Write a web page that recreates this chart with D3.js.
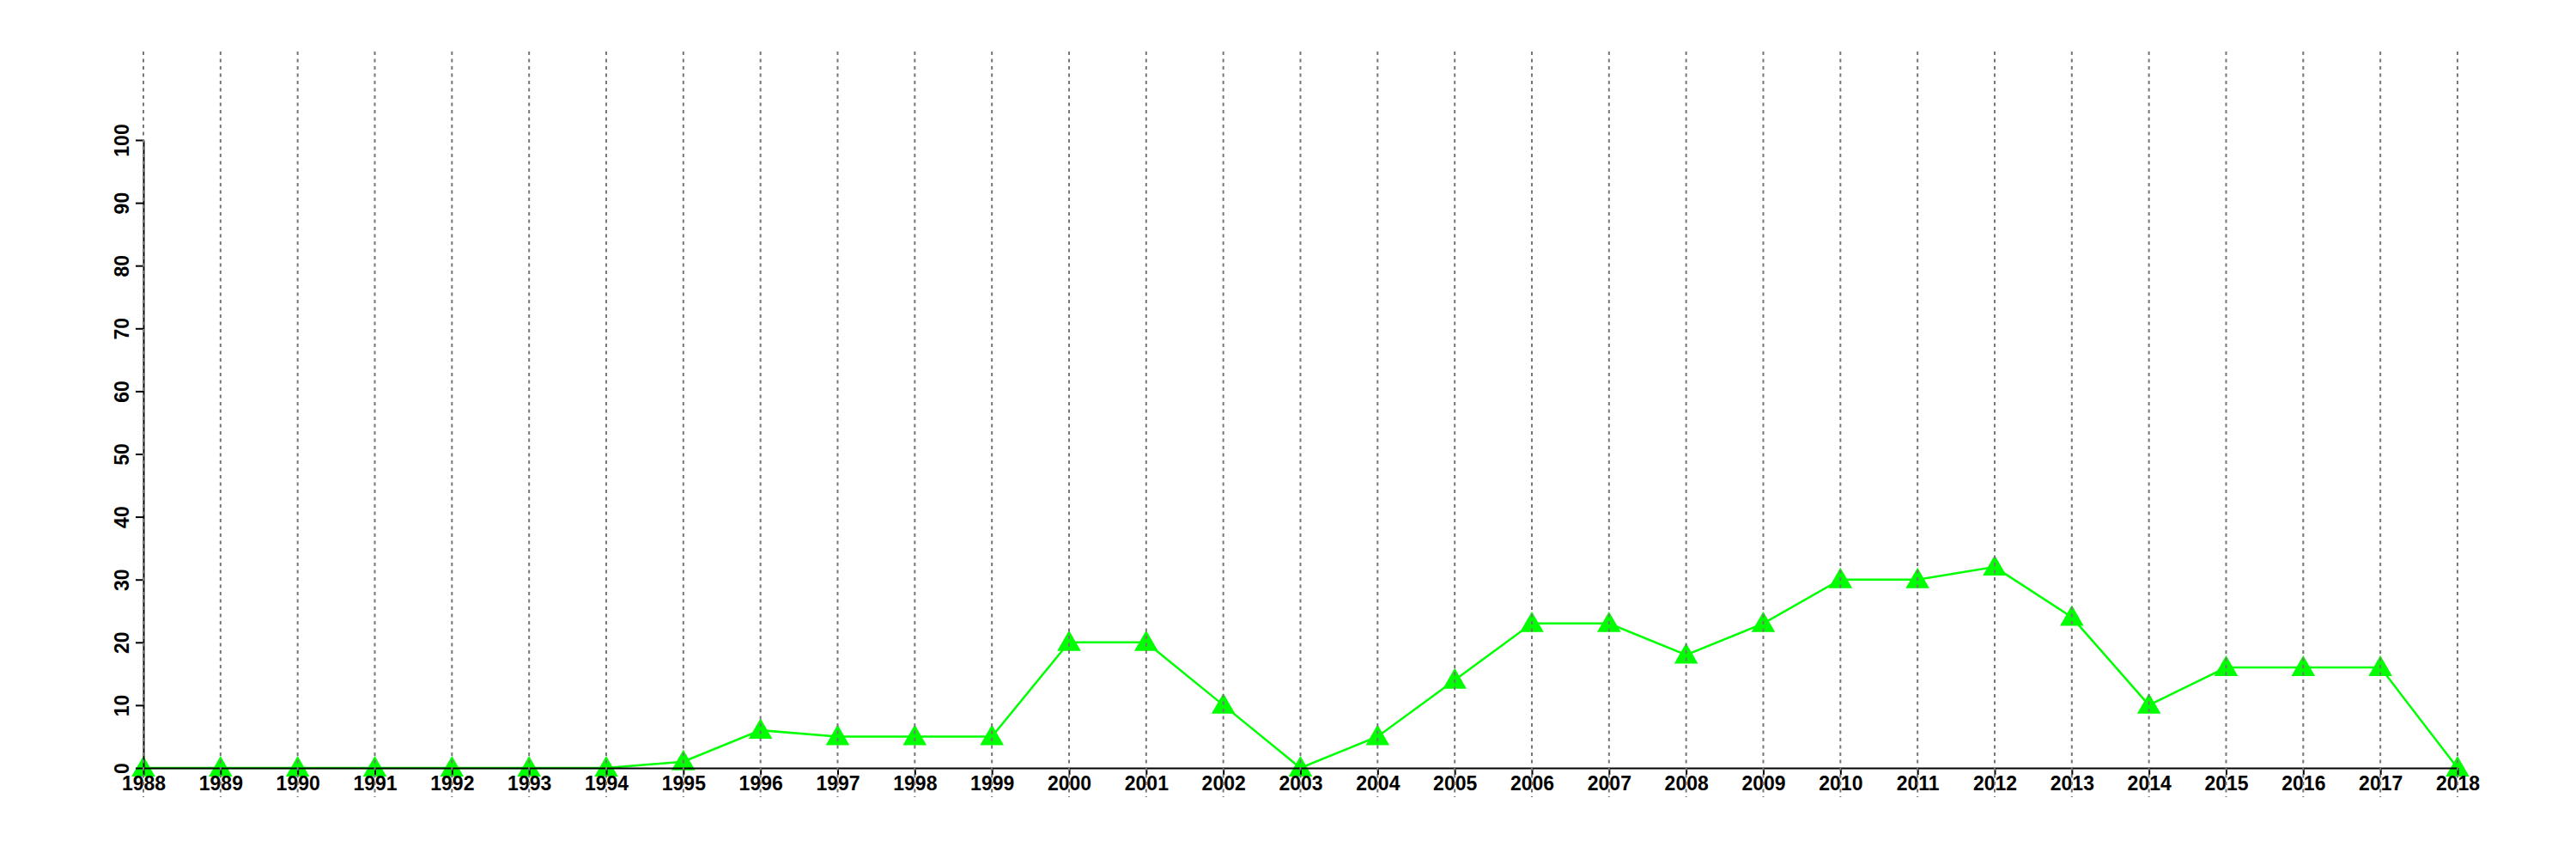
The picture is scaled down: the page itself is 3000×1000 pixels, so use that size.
<!DOCTYPE html>
<html>
<head>
<meta charset="utf-8">
<script src="https://cdn.jsdelivr.net/npm/d3@7"></script>
<style>
  body { margin: 0; background: #fff; }
  svg text { font-family: "Liberation Sans", Arial, sans-serif; font-weight: bold; }
</style>
</head>
<body>
<svg id="chart" width="3000" height="1000"></svg>
<script>
const years = d3.range(1988, 2019);
const values = [0, 0, 0, 0, 0, 0, 0, 1, 6, 5, 5, 5, 20, 20, 10, 0, 5, 14, 23, 23, 18, 23, 30, 30, 32, 24, 10, 16, 16, 16, 0];
const yTicks = d3.range(0, 101, 10);

const svg = d3.select('#chart');

const xScale = d3.scaleLinear().domain([1988, 2018]).range([167, 2862]);
const yScale = d3.scaleLinear().domain([0, 100]).range([894, 163]);

const data = years.map((y, i) => ({ year: y, value: values[i] }));

// line
const line = d3.line()
  .x(d => xScale(d.year))
  .y(d => yScale(d.value));

svg.append('path')
  .datum(data)
  .attr('fill', 'none')
  .attr('stroke', '#00ff00')
  .attr('stroke-width', 2.5)
  .attr('d', line);

// triangles
const tri = d3.symbol().type(d3.symbolTriangle).size(330);
svg.append('g')
  .selectAll('path')
  .data(data)
  .enter().append('path')
    .attr('transform', d => `translate(${xScale(d.year)},${yScale(d.value) + 2})`)
    .attr('fill', '#00ff00')
    .attr('d', tri);

// axes
const xAxis = d3.axisBottom(xScale)
  .tickValues(years)
  .tickFormat(d3.format('d'))
  .tickSize(8)
  .tickSizeOuter(0)
  .tickPadding(2);

const yAxis = d3.axisLeft(yScale)
  .tickValues(yTicks)
  .tickSize(9)
  .tickSizeOuter(0);

const xAxisG = svg.append('g')
  .attr('transform', `translate(0,${yScale(0)})`)
  .call(xAxis);

const yAxisG = svg.append('g')
  .attr('transform', `translate(${xScale(1988)},0)`)
  .call(yAxis);

[xAxisG, yAxisG].forEach(g => {
  g.selectAll('path, line').attr('stroke', '#000').attr('stroke-width', 2);
  g.selectAll('text').attr('fill', '#000').style('font-size', '23px');
});

yAxisG.selectAll('text')
  .attr('transform', 'rotate(-90)')
  .attr('x', 0)
  .attr('y', -17)
  .attr('dy', 0)
  .style('text-anchor', 'middle');

// dotted vertical grid
svg.append('g')
  .selectAll('line')
  .data(years)
  .enter().append('line')
    .attr('x1', d => xScale(d))
    .attr('x2', d => xScale(d))
    .attr('y1', 60)
    .attr('y2', 928)
    .attr('stroke', '#777')
    .attr('stroke-width', 2)
    .attr('stroke-dasharray', '4,4.5');
</script>
</body>
</html>
